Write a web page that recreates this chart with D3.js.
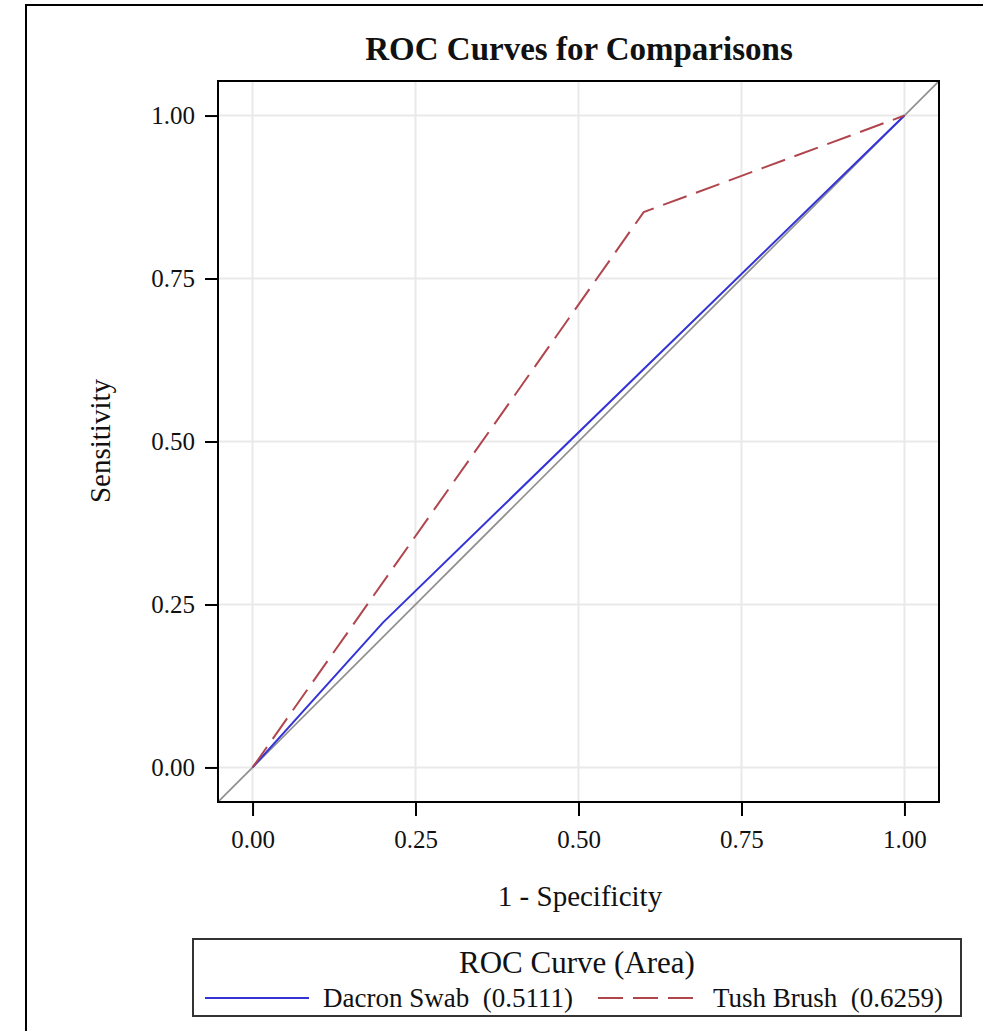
<!DOCTYPE html>
<html>
<head>
<meta charset="utf-8">
<script src="https://cdn.jsdelivr.net/npm/d3@7"></script>
<style>
  html, body { margin: 0; padding: 0; background: #fff; }
  svg { display: block; }
  text { font-family: "Liberation Serif", "Times New Roman", serif; fill: #111; white-space: pre; }
</style>
</head>
<body>
<svg id="chart" width="983" height="1031"></svg>
<script>
// ROC points (1 - specificity, sensitivity) for each collection method
const seriesNames = ["Dacron Swab", "Tush Brush"];
const seriesAreas = ["0.5111", "0.6259"];
const dacronFpr = [0, 0.2, 1];
const dacronTpr = [0, 0.2222, 1];
const tushFpr = [0, 0.6, 1];
const tushTpr = [0, 0.8519, 1];
const tickValues = [0, 0.25, 0.5, 0.75, 1];
const tickLabels = ["0.00", "0.25", "0.50", "0.75", "1.00"];

const svg = d3.select("#chart");
const W = 983, H = 1031;
const plot = { left: 218, right: 939, top: 81, bottom: 802 };

// outer frame (left and top edges visible)
svg.append("path")
  .attr("d", `M26,${H} L26,5 L${W},5`)
  .attr("fill", "none").attr("stroke", "#000").attr("stroke-width", 2);

const dom = [-0.053, 1.053];
const x = d3.scaleLinear().domain(dom).range([plot.left, plot.right]);
const y = d3.scaleLinear().domain(dom).range([plot.bottom, plot.top]);

// title
svg.append("text")
  .attr("x", 579).attr("y", 60)
  .attr("text-anchor", "middle")
  .attr("font-size", 33).attr("font-weight", "bold")
  .text("ROC Curves for Comparisons");

const g = svg.append("g");

// grid
g.selectAll("line.gx").data(tickValues).join("line")
  .attr("x1", d => x(d)).attr("x2", d => x(d))
  .attr("y1", plot.top).attr("y2", plot.bottom)
  .attr("stroke", "#e9e9e9").attr("stroke-width", 2);
g.selectAll("line.gy").data(tickValues).join("line")
  .attr("y1", d => y(d)).attr("y2", d => y(d))
  .attr("x1", plot.left).attr("x2", plot.right)
  .attr("stroke", "#e9e9e9").attr("stroke-width", 2);

// clip for data lines
svg.append("clipPath").attr("id", "clip")
  .append("rect").attr("x", plot.left).attr("y", plot.top)
  .attr("width", plot.right - plot.left).attr("height", plot.bottom - plot.top);

const lines = svg.append("g").attr("clip-path", "url(#clip)");
const line = d3.line().x(d => x(d[0])).y(d => y(d[1]));

// chance diagonal
lines.append("path")
  .attr("d", line([[dom[0], dom[0]], [dom[1], dom[1]]]))
  .attr("fill", "none").attr("stroke", "#8e8e8e").attr("stroke-width", 1.6);

const dacronPts = dacronFpr.map((v, i) => [v, dacronTpr[i]]);
const tushPts = tushFpr.map((v, i) => [v, tushTpr[i]]);

lines.append("path")
  .attr("d", line(dacronPts))
  .attr("fill", "none").attr("stroke", "#3434d6").attr("stroke-width", 2);

lines.append("path")
  .attr("d", line(tushPts))
  .attr("fill", "none").attr("stroke", "#b0454d").attr("stroke-width", 2)
  .attr("stroke-dasharray", "25,10");

// axes
const xAxis = d3.axisBottom(x).tickValues(tickValues)
  .tickFormat((d, i) => tickLabels[i]).tickSize(14).tickSizeOuter(0).tickPadding(14);
const yAxis = d3.axisLeft(y).tickValues(tickValues)
  .tickFormat((d, i) => tickLabels[i]).tickSize(13).tickSizeOuter(0).tickPadding(10);

const gx = svg.append("g").attr("transform", `translate(0,${plot.bottom})`).call(xAxis);
const gy = svg.append("g").attr("transform", `translate(${plot.left},0)`).call(yAxis);
[gx, gy].forEach(a => {
  a.select(".domain").remove();
  a.selectAll(".tick line").attr("stroke", "#000").attr("stroke-width", 2);
  a.selectAll(".tick text").attr("font-size", 25)
    .attr("font-family", "Liberation Serif, serif").attr("fill", "#111");
});

// plot frame
svg.append("rect")
  .attr("x", plot.left).attr("y", plot.top)
  .attr("width", plot.right - plot.left).attr("height", plot.bottom - plot.top)
  .attr("fill", "none").attr("stroke", "#000").attr("stroke-width", 2);

// axis labels
svg.append("text")
  .attr("x", 580).attr("y", 906)
  .attr("text-anchor", "middle").attr("font-size", 29)
  .text("1 - Specificity");
svg.append("text")
  .attr("transform", "translate(110,441) rotate(-90)")
  .attr("text-anchor", "middle").attr("font-size", 29)
  .text("Sensitivity");

// legend
const lg = svg.append("g");
lg.append("rect")
  .attr("x", 193).attr("y", 939).attr("width", 768).attr("height", 77)
  .attr("fill", "#fff").attr("stroke", "#333").attr("stroke-width", 2);
lg.append("text")
  .attr("x", 577).attr("y", 973)
  .attr("text-anchor", "middle").attr("font-size", 31)
  .text("ROC Curve (Area)");

const entries = [
  { name: seriesNames[0], area: seriesAreas[0], color: "#3434d6", dash: null, x0: 205, x1: 309, tx: 323 },
  { name: seriesNames[1], area: seriesAreas[1], color: "#b0454d", dash: "25,10", x0: 598, x1: 693, tx: 713 }
];
entries.forEach(e => {
  lg.append("line")
    .attr("x1", e.x0).attr("x2", e.x1).attr("y1", 998).attr("y2", 998)
    .attr("stroke", e.color).attr("stroke-width", 2)
    .attr("stroke-dasharray", e.dash);
  lg.append("text")
    .attr("x", e.tx).attr("y", 1007)
    .attr("font-size", 27)
    .text(`${e.name}  (${e.area})`);
});
</script>
</body>
</html>
